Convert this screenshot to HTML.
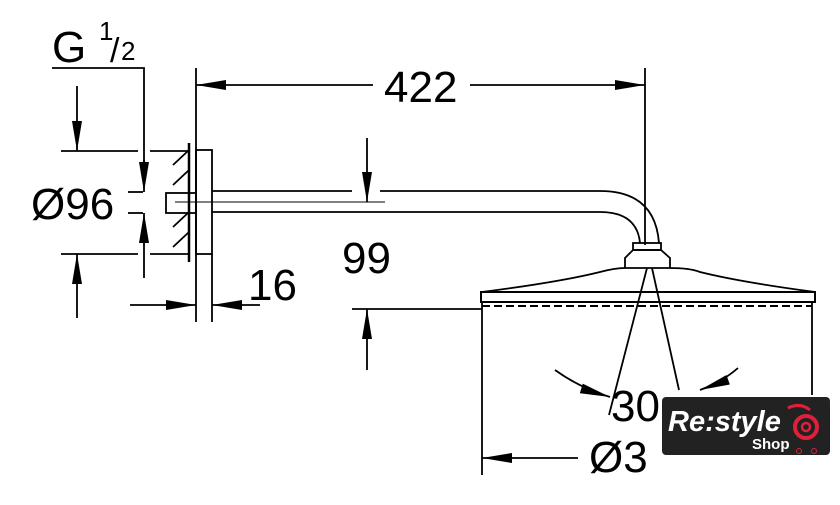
<!DOCTYPE html>
<html><head><style>html,body{margin:0;padding:0;background:#fff}svg{display:block}</style></head><body>
<svg width="840" height="505" viewBox="0 0 840 505" xmlns="http://www.w3.org/2000/svg" font-family="Liberation Sans, sans-serif">
<defs>
<marker id="b" viewBox="0 0 30 10" refX="30" refY="5" markerWidth="30" markerHeight="10" markerUnits="userSpaceOnUse" orient="auto-start-reverse"><path d="M0,0 L30,5 L0,10 z" fill="#000"/></marker>
</defs>
<g stroke="#000" stroke-width="1.8" fill="none">
<polyline points="52,68 144,68 144,162"/>
<line x1="144" y1="160" x2="144" y2="192" marker-end="url(#b)"/>
<line x1="61" y1="151" x2="138" y2="151"/><line x1="150" y1="151" x2="190" y2="151"/>
<line x1="61" y1="254" x2="138" y2="254"/><line x1="150" y1="254" x2="190" y2="254"/>
<line x1="77" y1="86" x2="77" y2="151" marker-end="url(#b)"/>
<line x1="77" y1="318" x2="77" y2="254" marker-end="url(#b)"/>
<line x1="128" y1="192" x2="143" y2="192"/><line x1="128" y1="213" x2="143" y2="213"/>
<line x1="144" y1="278" x2="144" y2="213" marker-end="url(#b)"/>
<line x1="189" y1="143" x2="189" y2="262" stroke-width="2.5"/>
<path d="M173,165 L189,150 M173,185 L189,170 M173,227 L189,212 M173,247 L189,232"/>
<rect x="196" y="150" width="16" height="104"/>
<rect x="166" y="193" width="30" height="20"/>
<line x1="196" y1="68" x2="196" y2="322"/><line x1="212" y1="254" x2="212" y2="322"/>
<path d="M212,191 L352,191 M380,191 L600,191 Q655,191 659,243"/>
<path d="M212,212 L600,212 Q637,212 640,243"/>
<line x1="175" y1="202" x2="385" y2="202" stroke-width="1"/>
<line x1="367" y1="138" x2="367" y2="202" marker-end="url(#b)"/>
<line x1="130" y1="305" x2="196" y2="305" marker-end="url(#b)"/>
<line x1="260" y1="305" x2="212" y2="305" marker-end="url(#b)"/>
<line x1="373" y1="85" x2="196" y2="85" marker-end="url(#b)"/>
<line x1="470" y1="85" x2="645" y2="85" marker-end="url(#b)"/>
<line x1="645" y1="68" x2="645" y2="245"/>
<rect x="633" y="243" width="28" height="7"/>
<path d="M625,268 L625,258 L633,250 L661,250 L670,258 L670,268"/>
<path d="M482,292 Q560,282 600,272 Q615,268 625,268 L670,268 Q690,268 700,272 Q740,282 815,292"/>
<rect x="481" y="292" width="334" height="10" stroke-width="2"/>
<line x1="482" y1="306" x2="812" y2="306" stroke-dasharray="8,4" stroke-width="2"/>
<line x1="352" y1="309" x2="482" y2="309"/>
<line x1="367" y1="370" x2="367" y2="309" marker-end="url(#b)"/>
<line x1="482" y1="302" x2="482" y2="475"/><line x1="812" y1="302" x2="812" y2="395"/>
<line x1="647" y1="268" x2="609" y2="415"/><line x1="652" y1="268" x2="679" y2="390"/>
<path d="M555,370 Q580,388 610,397" marker-end="url(#b)"/>
<path d="M738,368 Q722,382 700,390" marker-end="url(#b)"/>
<line x1="578" y1="458" x2="482" y2="458" marker-end="url(#b)"/>
</g>
<g font-size="44" fill="#000">
<text x="52" y="62">G</text>
<text x="99" y="40" font-size="26">1</text>
<text x="110" y="62" font-size="34">/</text>
<text x="121" y="60" font-size="26">2</text>
<text x="31" y="219">Ø96</text>
<text x="342" y="273">99</text>
<text x="248" y="300">16</text>
<text x="384" y="102">422</text>
<text x="611" y="421">30</text>
<text x="589" y="472">Ø3</text>
</g>
<rect x="662" y="397" width="168" height="58" rx="4" fill="#222"/>
<text x="668" y="431" font-size="29" font-style="italic" font-weight="bold" fill="#fff">Re:style</text>
<text x="752" y="449" font-size="15" font-weight="bold" fill="#fff">Shop</text>
<path d="M788,408 Q800,402 810,410" fill="none" stroke="#e0203a" stroke-width="3"/>
<circle cx="806" cy="427" r="11" fill="none" stroke="#e0203a" stroke-width="4"/>
<circle cx="806" cy="427" r="4" fill="none" stroke="#e0203a" stroke-width="2.5"/>
<circle cx="799" cy="451" r="2.5" fill="none" stroke="#e0203a"/><circle cx="814" cy="451" r="2.5" fill="none" stroke="#e0203a"/>
</svg>
</body></html>
